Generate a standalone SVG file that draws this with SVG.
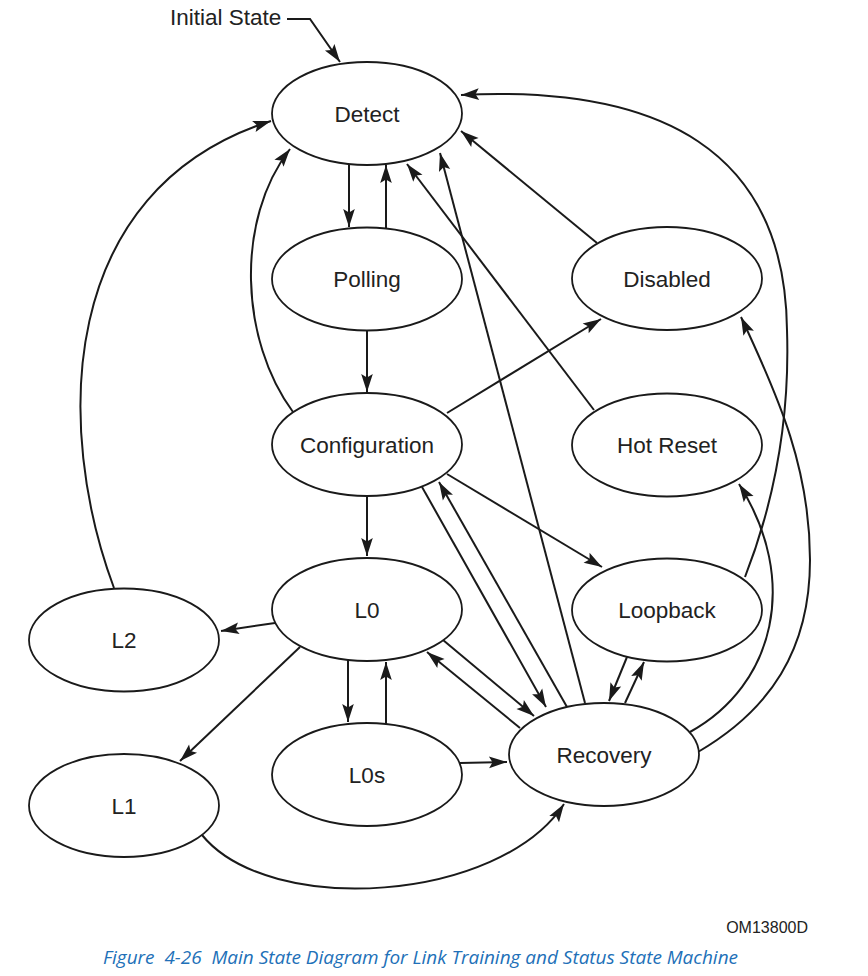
<svg xmlns="http://www.w3.org/2000/svg" width="868" height="976" viewBox="0 0 868 976">
<style>
  .node ellipse { fill: #ffffff; stroke: #1a1a1a; stroke-width: 1.8; }
  .node text { font-family: "Liberation Sans", Arial, sans-serif; font-size: 22.5px; fill: #222222; text-anchor: middle; }
  .conn path { fill: none; stroke: #1a1a1a; stroke-width: 2; marker-end: url(#arrow); }
  .lbl { font-family: "Liberation Sans", Arial, sans-serif; fill: #222222; }
  .cap { font-family: "Open Sans", "Noto Sans", sans-serif; font-style: italic; font-size: 19px; fill: #2170b8; }
</style>
<defs>
  <marker id="arrow" viewBox="-20 -7 21 14" refX="0" refY="0" markerWidth="21" markerHeight="14" markerUnits="userSpaceOnUse" orient="auto">
    <path d="M0,0 L-18,-5.8 L-14.5,0 L-18,5.8 Z" fill="#1a1a1a"/>
  </marker>
</defs>
<rect width="868" height="976" fill="#ffffff"/>

<g id="connectors" class="conn">
  <path id="init-detect" d="M287,19 H310 L340,62"/>
  <path id="detect-polling" d="M349,165 V227"/>
  <path id="polling-detect" d="M386,228 V165"/>
  <path id="polling-config" d="M367,331 V392"/>
  <path id="config-detect" d="M293,412 C240,340 235,220 290,149"/>
  <path id="l2-detect" d="M114,588 C55,430 55,190 271,121"/>
  <path id="recovery-detect" d="M585,703 L440,153"/>
  <path id="hotreset-detect" d="M594,410 L407,164"/>
  <path id="disabled-detect" d="M597,243 L461,131"/>
  <path id="loopback-detect" d="M745,577 C775,500 790,420 787,330 C785,150 660,85 461,95"/>
  <path id="config-disabled" d="M447,413 L601,319"/>
  <path id="recovery-disabled" d="M698,752 C770,710 810,650 810,560 C810,470 780,400 741,317"/>
  <path id="recovery-hotreset" d="M690,732 C775,685 800,580 739,484"/>
  <path id="config-l0" d="M367,496 V556"/>
  <path id="config-loopback" d="M447,474 L602,567"/>
  <path id="config-recovery" d="M422,487 L546,707"/>
  <path id="recovery-config" d="M567,707 L439,482"/>
  <path id="l0-recovery" d="M443,640 L534,716"/>
  <path id="recovery-l0" d="M520,728 L427,652"/>
  <path id="l0-l2" d="M275,623 L221,631"/>
  <path id="l0-l1" d="M300,647 L180,761"/>
  <path id="l0-l0s" d="M348,660 V722"/>
  <path id="l0s-l0" d="M386,724 V662"/>
  <path id="l0s-recovery" d="M460,763 L507,762"/>
  <path id="l1-recovery" d="M202,835 C270,918 500,902 564,804"/>
  <path id="loopback-recovery" d="M627,657 L609,701"/>
  <path id="recovery-loopback" d="M625,703 L644,662"/>
</g>

<g id="detect" class="node"><ellipse cx="367" cy="113.5" rx="95" ry="51.5"/><text x="367" y="121.5">Detect</text></g>
<g id="polling" class="node"><ellipse cx="367" cy="279" rx="95" ry="51.5"/><text x="367" y="287">Polling</text></g>
<g id="disabled" class="node"><ellipse cx="667" cy="278.5" rx="95" ry="51.5"/><text x="667" y="286.5">Disabled</text></g>
<g id="configuration" class="node"><ellipse cx="367" cy="444.5" rx="95" ry="51.5"/><text x="367" y="452.5">Configuration</text></g>
<g id="hotreset" class="node"><ellipse cx="667" cy="445" rx="95" ry="51.5"/><text x="667" y="453">Hot Reset</text></g>
<g id="l0" class="node"><ellipse cx="367" cy="609.5" rx="95" ry="51.5"/><text x="367" y="617.5">L0</text></g>
<g id="loopback" class="node"><ellipse cx="667" cy="610" rx="95" ry="51.5"/><text x="667" y="618">Loopback</text></g>
<g id="l2" class="node"><ellipse cx="124" cy="640" rx="95" ry="51.5"/><text x="124" y="648">L2</text></g>
<g id="l1" class="node"><ellipse cx="124" cy="805.5" rx="95" ry="51.5"/><text x="124" y="813.5">L1</text></g>
<g id="l0s" class="node"><ellipse cx="367" cy="774.5" rx="95" ry="51.5"/><text x="367" y="782.5">L0s</text></g>
<g id="recovery" class="node"><ellipse cx="604" cy="754.5" rx="95" ry="51.5"/><text x="604" y="762.5">Recovery</text></g>

<text class="lbl" x="170" y="25" font-size="22.5">Initial State</text>
<text class="lbl" x="808" y="933" font-size="16" text-anchor="end">OM13800D</text>
<text class="cap" x="103" y="964" textLength="635" lengthAdjust="spacingAndGlyphs" xml:space="preserve">Figure  4-26  Main State Diagram for Link Training and Status State Machine</text>
</svg>
